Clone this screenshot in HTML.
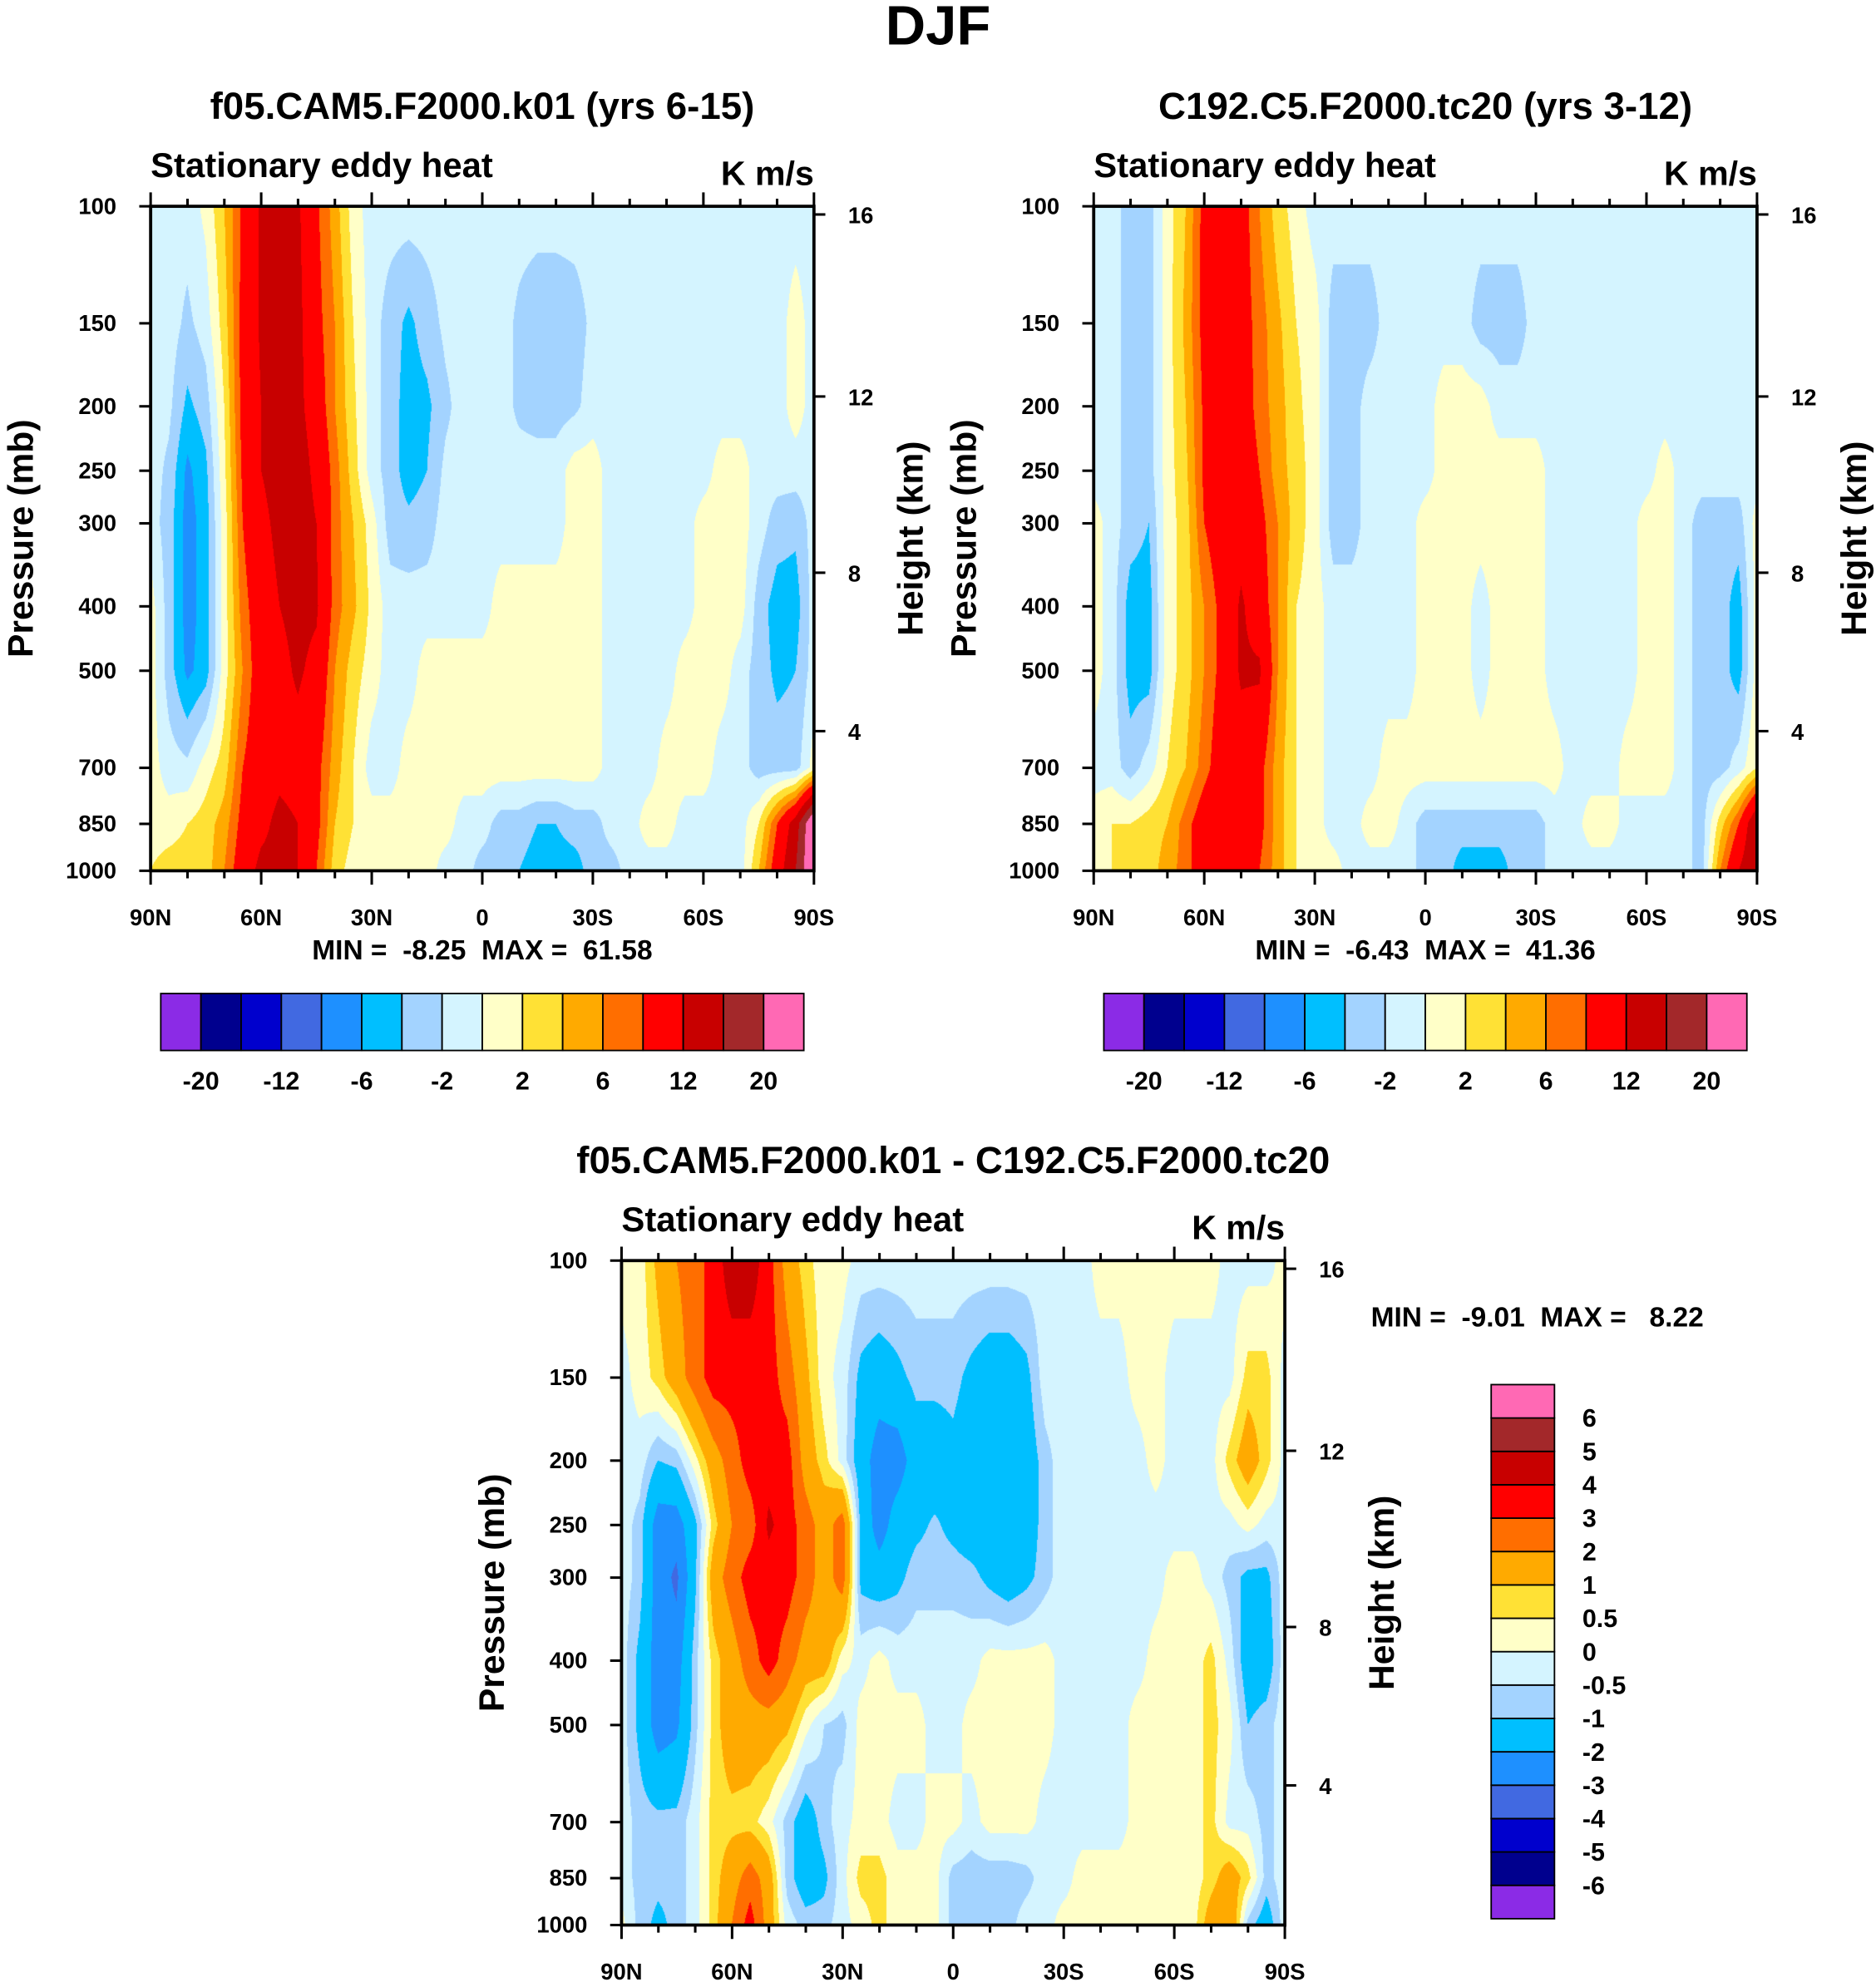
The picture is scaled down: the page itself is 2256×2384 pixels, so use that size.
<!DOCTYPE html>
<html><head><meta charset="utf-8">
<style>
html,body{margin:0;padding:0;background:#fff;}
#page{position:relative;width:2256px;height:2384px;overflow:hidden;background:#fff;}
canvas{position:absolute;display:block;}
svg{position:absolute;left:0;top:0;}
text{font-family:"Liberation Sans",Arial,sans-serif;font-weight:bold;fill:#000;white-space:pre;}
</style></head>
<body>
<div id="page">
<svg id="svg" width="2256" height="2384" viewBox="0 0 1482 1566" preserveAspectRatio="none"></svg>
</div>
<script>
const lats=[90,85,80,75,70,65,60,55,50,45,40,35,30,25,20,15,10,5,0,-5,-10,-15,-20,-25,-30,-35,-40,-45,-50,-55,-60,-65,-70,-75,-80,-85,-90];
const plevs=[100,150,200,250,300,400,500,700,850,1000];
const p1Rows=[
[-1,-1,-1,.5,4,8.5,12.5,13,12.5,8.5,5,1,-1, -1,-1,-1,-1,-1,-1,-1,-1,-1,-1,-1,-1, -1,-1,-1,-1,-1,-1,-1,-1,-1,-1,-1,-1],
[-1,-1,-2.5,-1,3,9,12.5,14,13,9,6,2,-1, -3,-4.5,-3,-1.5,-1,-1,-1,-2.5,-3.5,-3.5,-3,-1.5, -1,-1,-1,-1,-1,-1,-1,-1,-1,-1,1,-1],
[-1,-1.5,-4.5,-3,2,9,12,14,13,10,6,2.5,-1, -3,-5,-4.5,-2.5,-1,-1,-1,-2.5,-3,-3,-2.5,-1, -1,-1,-1,-1,-1,-1,-1,-1,-1,-1,1,-1],
[-1,-2.5,-6.5,-4.5,1.5,8.5,12,13.5,14,11,7,3,-1, -3,-5,-4,-1.5,-1,-1,-1,-1,-1,-1,1,1, -1,-1,-1,-1,-1,-1,1,1,-1,-1,-1,-1],
[-1,-3,-7,-5,1,8,11,13,14,12,7,4,1, -3,-3.5,-3,-1,-1,-1,-1,-1,-1,-1,1,1, -1,-1,-1,-1,-1,1,1,1,-1,-3,-3.5,-1],
[1,-3,-7,-5,1,7,10,12,13,12.5,7,4.5,1.5, -1,-1,-1,-1,-1,-1,1,1,1,1,1,1, -1,-1,-1,-1,-1,1,1,1,-3,-5,-5,-1],
[1,-3,-6.5,-5,1,6,10,11,12.5,11,6,3,1, -1,-1,1,1,1,1,1,1,1,1,1,1, -1,-1,-1,-1,1,1,1,-1,-3,-4.5,-4,-1],
[1,-1,-1.5,1,3,8,10,11,10.5,9,5,2,-1, -1,1,1,1,1,1,1,1,1,1,1,1, -1,-1,-1,1,1,1,-1,-1,-3,-3,-3,1],
[1,1,2,3,5,9,11,13,12,9,4,2,1, 1,1,1,1,-1,-1,-3,-3,-4,-4,-3,-3, -1,-1,1,1,-1,-1,-1,-1,2,8,14,25],
[2,3,3,3,6,10,13,13,12,8,3,1,1, 1,1,1,-1,-1,-3,-3,-4,-5,-5,-5,-3, -3,-1,-1,-1,-1,-1,-1,-1,4,10,16,25]];
const p2Rows=[
[-1,-1,-3,-3,1,4,9,10,9.5,6,3,1,-1, -1,-1,-1,-1,-1,-1,-1,-1,-1,-1,-1,-1, -1,-1,-1,-1,-1,-1,-1,-1,-1,-1,-1,-1],
[-1,-1,-3,-3,1,4.5,9,10,9.5,7,4.5,2,1, -3,-3,-3,-1,-1,-1,-1,-1,-3,-3,-3,-1, -1,-1,-1,-1,-1,-1,-1,-1,-1,-1,-1,-1],
[-1,-1,-3,-3,1,4,8.5,10,10,7,5,2.5,1, -3,-3,-1,-1,-1,-1,1,1,1,-1,-1,-1, -1,-1,-1,-1,-1,-1,-1,-1,-1,-1,-1,-1],
[-1,-1,-3,-3,1,3.5,8.5,10,10.5,8,5,3,1, -3,-3,-1,-1,-1,-1,1,1,1,1,1,1, -1,-1,-1,-1,-1,-1,1,-1,-1,-1,-1,-1],
[1,-1,-3,-4,1,3,8,10,10.5,9,6,3,1, -3,-3,-1,-1,-1,1,1,1,1,1,1,1, -1,-1,-1,-1,-1,1,1,-1,-3,-3,-3,1],
[1,-1,-5,-5,1,3,6,9,12.5,10,6,2,1, -1,-1,-1,-1,-1,1,1,1,-1,1,1,1, -1,-1,-1,-1,-1,1,1,-1,-3,-3,-5,1],
[1,-1,-5,-5,1,3,6,9,12.5,12.5,6,2,1, -1,-1,-1,-1,-1,1,1,1,-1,1,1,1, -1,-1,-1,-1,-1,1,1,-1,-3,-3,-5,1],
[-1,-1,-3,-1,2,4,7,10,10,9,5,2,1, -1,-1,-1,1,1,1,1,1,1,1,1,1, 1,-1,-1,-1,1,1,1,-1,-3,-3,-1,2],
[1,2,2,3,4,7,10,11,10,9,5,2,1, -1,-1,1,1,-1,-3,-3,-3,-3,-3,-3,-3, -1,-1,1,1,-1,-1,-1,-1,-3,3,8,16],
[1,2,3,3,5,7,10,10,10,8,5,2,1, 1,-1,-1,-1,-1,-3,-3,-5,-5,-5,-3,-3, -1,-1,-1,-1,-1,-1,-1,-1,-3,6,12,16]];
const p3Rows=[
[.2,.2,1.2,2,2.5,3.5,4.5,4.5,3.5,1.5,.7,.2,.2, -.2,-.2,-.2,-.2,-.2,-.2,-.2,-.2,-.2,-.2,-.2,-.2, -.2,.2,.2,.2,.2,.2,.2,.2,-.2,-.2,-.2,.2],
[-.2,.2,.7,1.5,2.5,3.5,3.5,3.5,3.5,2.5,1.2,.2,-.2, -1.2,-1.5,-1.2,-.8,-.8,-.8,-1.2,-1.5,-1.5,-1.2,-.2,-.2, -.2,-.2,-.2,.2,.2,-.2,-.2,-.2,-.2,.7,.7,-.2],
[-.2,-.2,-1,-.8,.3,1.5,2.5,3.5,3.5,3.5,1.5,.7,-.2, -1.5,-2.5,-2.5,-1.5,-1.5,-1.2,-1.5,-1.5,-1.5,-1.5,-.7,-.2, -.2,-.2,-.2,-.2,.2,-.2,-.2,-.2,.7,1.5,.7,-.2],
[-.2,-.7,-2.5,-2.5,-1.2,.7,2,2.5,4.2,3.5,2.5,1.5,2.5, -1.2,-2.5,-1.5,-1.2,-.9,-1.2,-1.5,-1.5,-1.5,-1.5,-.7,-.2, -.2,-.2,-.2,-.2,-.2,-.2,-.2,-.2,-.2,.2,-.2,-.2],
[-.2,-.7,-2.5,-3.2,-1.2,1.5,2.5,3.5,3.5,3.5,2.5,1.5,2.5, -1.2,-1.5,-1.2,-.7,-.7,-.7,-.8,-1.2,-1.5,-1.2,-.7,-.2, -.2,-.2,-.2,-.2,-.2,.2,.2,-.2,-.7,-1.2,-1.2,-.2],
[-.2,-1.2,-2.5,-2.5,-.7,.7,1.5,2.5,3.5,2.5,1.5,1.5,.2, -.2,.2,-.2,-.2,-.2,-.2,-.2,.2,.2,.2,.2,-.2, -.2,-.2,-.2,-.2,.2,.2,.2,.7,-.2,-1.5,-1.5,-.2],
[-.2,-1.2,-2.5,-2.2,-.7,.7,1.5,1.5,1.5,1.2,.2,-.5,-.7, .2,.2,.2,.2,-.2,-.2,.2,.2,.2,.2,.2,-.2, -.2,-.2,-.2,.2,.2,.2,.2,.7,.2,-1,-.7,-.2],
[-.2,-.7,-.8,-.8,-.2,.7,.8,.7,.2,-.7,-1.5,-.7,-.2, .2,.2,-.2,-.2,.2,.2,-.2,.2,.2,.2,-.2,-.2, -.2,-.2,-.2,.2,.2,.2,.2,.7,-.2,-.2,-.7,-.2],
[-.2,-.7,-.8,-.8,-.2,.7,1.5,2.5,1.5,-.7,-1.5,-1.2,-.2, .7,.7,.2,.2,.2,-.7,-.8,-.8,-.8,-.7,-.2,-.2, .2,.2,.2,.2,.2,.2,.2,.7,1.5,.7,-.7,-.2],
[.2,-.7,-1.2,-.8,-.2,.7,2,3.5,1.5,-.2,-.7,-.7,-.2, .2,.7,.2,.2,.2,-.7,-.8,-.8,-.7,-.2,-.2,.2, .2,.2,.2,.2,.2,.2,.2,1.5,2,-.7,-1.5,-.2]];
const levelsAbs=[-20,-16,-12,-8,-6,-4,-2,0,2,4,6,8,12,16,20];
const levelsDiff=[-6,-5,-4,-3,-2,-1,-0.5,0,0.5,1,2,3,4,5,6];
const cbLabelsAbs=['-20','-12','-6','-2','2','6','12','20'];
const cbLabelsDiff=['-6','-5','-4','-3','-2','-1','-0.5','0','0.5','1','2','3','4','5','6'];
const pressTicks=[100,150,200,250,300,400,500,700,850,1000];
const heightTicks=[4,8,12,16];
const latTickLabels=['90N','60N','30N','0','30S','60S','90S'];
const colors=['#8B2BE6','#00008E','#0000CD','#4169E1','#1E90FF','#00BFFF','#A3D3FF','#D4F4FF','#FFFFC8','#FFE135','#FFAA00','#FF6E00','#FF0000','#C80000','#A3282A','#FF69B4'];

const SX=2256/1482, SY=2384/1566;
const NS='http://www.w3.org/2000/svg';
const svg=document.getElementById('svg');
const page=document.getElementById('page');
function mk(tag,parent){const e=document.createElementNS(NS,tag);parent.appendChild(e);return e;}
function txt(parent,x,y,s,size,anchor){const t=mk('text',parent);t.setAttribute('x',x);t.setAttribute('y',y);t.setAttribute('font-size',size);t.setAttribute('text-anchor',anchor||'start');t.setAttributeNS('http://www.w3.org/XML/1998/namespace','xml:space','preserve');t.textContent=s;return t;}
function line(parent,x1,y1,x2,y2,w){const l=mk('line',parent);l.setAttribute('x1',x1);l.setAttribute('y1',y1);l.setAttribute('x2',x2);l.setAttribute('y2',y2);l.setAttribute('stroke','#000');l.setAttribute('stroke-width',w||1.5);return l;}
function colorIndex(v,levels){let i=0;while(i<levels.length&&v>=levels[i])i++;return i;}
function hex(c){return [parseInt(c.substr(1,2),16),parseInt(c.substr(3,2),16),parseInt(c.substr(5,2),16)];}
const rgb=colors.map(hex);
function pOfZ(z){const m=z*1000;if(m<=11000)return 1013.25*Math.pow(1-2.25577e-5*m,5.25588);return 226.32*Math.exp(-(m-11000)/6341.6);}

function panel(P){
  const g=mk('g',svg);
  
  
  const xS=lat=>P.x0+(90-lat)/180*P.w;
  const yS=p=>P.y0+(Math.log10(p)-2)*P.h;
  const cv=document.createElement('canvas');
  
  
  const W=Math.round(P.w*SX),H=Math.round(P.h*SY);
  cv.width=W;cv.height=H;
  cv.style.left=(P.x0*SX)+'px';cv.style.top=(P.y0*SY)+'px';
  cv.style.width=W+'px';cv.style.height=H+'px';
  page.insertBefore(cv,svg);
  const ctx=cv.getContext('2d');const img=ctx.createImageData(W,H);
  const lp=plevs.map(p=>Math.log10(p));
  const dLat=lats[0]-lats[1];
  for(let py=0;py<H;py++){
    const L=2+(py+0.5)/H;
    let r=0;while(r<lp.length-2&&L>lp[r+1])r++;
    let fr=(L-lp[r])/(lp[r+1]-lp[r]);fr=Math.max(0,Math.min(1,fr));
    const A=P.rows[r],B=P.rows[r+1];
    for(let px=0;px<W;px++){
      const lat=90-180*(px+0.5)/W;
      let ci=(lats[0]-lat)/dLat;let c=Math.min(Math.floor(ci),lats.length-2);const fc=ci-c;
      const v=(A[c]*(1-fc)+A[c+1]*fc)*(1-fr)+(B[c]*(1-fc)+B[c+1]*fc)*fr;
      const col=rgb[colorIndex(v,P.levels)];
      const k=(py*W+px)*4;img.data[k]=col[0];img.data[k+1]=col[1];img.data[k+2]=col[2];img.data[k+3]=255;
    }
  }
  ctx.putImageData(img,0,0);
  const fr=mk('rect',g);
  
  
  fr.setAttribute('x',P.x0);fr.setAttribute('y',P.y0);fr.setAttribute('width',P.w);fr.setAttribute('height',P.h);
  fr.setAttribute('fill','none');fr.setAttribute('stroke','#000');fr.setAttribute('stroke-width',2.5);
  for(let lat=90;lat>=-90;lat-=10){
    const major=lat%30===0;const len=major?11:6;const x=xS(lat);
    line(g,x,P.y0,x,P.y0-len,2);line(g,x,P.y0+P.h,x,P.y0+P.h+len,2);
  }
  latTickLabels.forEach((s,i)=>{
    const t=txt(g,xS(90-30*i),P.y0+P.h+43,s,18,'middle');
    
    
  });
  pressTicks.forEach(p=>{
    const y=yS(p);line(g,P.x0,y,P.x0-9,y,2);
    const t=txt(g,P.x0-27,y+6,String(p),18,'end');
    
    
  });
  heightTicks.forEach(z=>{
    const y=yS(pOfZ(z));line(g,P.x0+P.w,y,P.x0+P.w+9,y,2);
    const t=txt(g,P.x0+P.w+27,y+7,String(z),18,'start');
    
    
  });
  const t1=txt(g,P.x0+P.w/2,P.y0-69,P.title,30,'middle');
  
  
  const t2=txt(g,P.x0,P.y0-23,'Stationary eddy heat',27.5,'start');
  
  
  const t3=txt(g,P.x0+P.w,P.y0-17,'K m/s',27,'end');
  
  
  const yl=txt(g,0,0,'Pressure (mb)',28,'middle');
  yl.setAttribute('transform','translate('+(P.x0-93)+','+(P.y0+P.h/2)+') rotate(-90)');
  
  
  const hl=txt(g,0,0,'Height (km)',28,'middle');
  hl.setAttribute('transform','translate('+(P.x0+P.w+86)+','+(P.y0+P.h/2)+') rotate(-90)');
  
  
  return g;
}

panel({name:'panel-cam5',x0:119,y0:163,w:524,h:525,rows:p1Rows,levels:levelsAbs,title:'f05.CAM5.F2000.k01 (yrs 6-15)'});
panel({name:'panel-c192',x0:864,y0:163,w:524,h:525,rows:p2Rows,levels:levelsAbs,title:'C192.C5.F2000.tc20 (yrs 3-12)'});
panel({name:'panel-difference',x0:491,y0:996,w:524,h:525,rows:p3Rows,levels:levelsDiff,title:'f05.CAM5.F2000.k01 - C192.C5.F2000.tc20'});

const main=txt(svg,741,35,'DJF',44,'middle');


const m1=txt(svg,381,758,'MIN =  -8.25  MAX =  61.58',22,'middle');


const m2=txt(svg,1126,758,'MIN =  -6.43  MAX =  41.36',22,'middle');


const m3=txt(svg,1083,1048,'MIN =  -9.01  MAX =   8.22',22,'start');



function hbar(x0,name){
  const g=mk('g',svg);
  
  
  const bw=508/16;
  colors.forEach((c,i)=>{
    const r=mk('rect',g);
    
    
    r.setAttribute('x',x0+i*bw);r.setAttribute('y',785);r.setAttribute('width',bw);r.setAttribute('height',45);
    r.setAttribute('fill',c);r.setAttribute('stroke','#000');r.setAttribute('stroke-width',1.2);
  });
  cbLabelsAbs.forEach((s,i)=>{
    const t=txt(g,x0+(2*i+1)*bw,861,s,20,'middle');
    
    
  });
}
hbar(127,'colorbar-cam5');
hbar(872,'colorbar-c192');
(function(){
  const g=mk('g',svg);
  
  
  const bh=422/16;
  colors.forEach((c,i)=>{
    const r=mk('rect',g);
    
    
    r.setAttribute('x',1178);r.setAttribute('y',1094+(15-i)*bh);r.setAttribute('width',50);r.setAttribute('height',bh);
    r.setAttribute('fill',c);r.setAttribute('stroke','#000');r.setAttribute('stroke-width',1.2);
  });
  cbLabelsDiff.forEach((s,i)=>{
    const t=txt(g,1250,1094+(15-i)*bh+7,s,20,'start');
    
    
  });
})();
</script>
</body></html>
